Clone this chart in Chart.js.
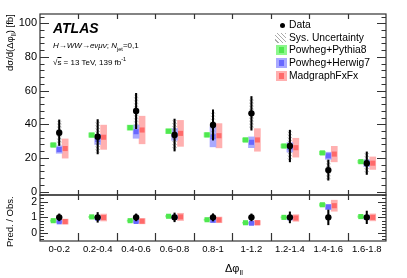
<!DOCTYPE html>
<html>
<head>
<meta charset="utf-8">
<script src="https://cdn.jsdelivr.net/npm/chart.js@4"></script>
<style>
  body { margin: 0; background: #fff; }
  #wrap { position: relative; width: 407px; height: 278px; font-family: 'Liberation Sans', Arial, sans-serif; color: #000; }
  canvas { position: absolute; left: 0; top: 0; }
  .txt { position: absolute; white-space: nowrap; line-height: 1; }
  .rot { transform-origin: 0 0; transform: rotate(-90deg); }
  .leg { position: absolute; left: 289px; font-size: 10.3px; line-height: 1; white-space: nowrap; }
  .sym { position: absolute; }
  sub { font-size: 0.7em; }
  sup { font-size: 0.7em; }
</style>
</head>
<body>
<div id="wrap">
  <canvas id="ratioChart" width="407" height="278"></canvas>
  <canvas id="mainChart" width="407" height="278"></canvas>

  <div class="txt" style="left:53px; top:21px; font-size:14px; font-weight:bold; font-style:italic;">ATLAS</div>
  <div class="txt" style="left:53px; top:42px; font-size:8px;"><i>H</i>→<i>WW</i>→<i>eνμν</i>; <i>N</i><sub>jet</sub>=0,1</div>
  <div class="txt" style="left:53px; top:57px; font-size:8px;">√<span style="text-decoration:overline">s</span> = 13 TeV, 139 fb<sup>-1</sup></div>

  <div class="sym" style="left:280px; top:23px; width:5px; height:5px; border-radius:50%; background:#000;"></div>
  <div class="leg" style="top:20px;">Data</div>
  <div class="sym" style="left:275px; top:33px; width:11px; height:10px; background:repeating-linear-gradient(45deg, #fff 0 2px, #aaa 2px 3px);"></div>
  <div class="leg" style="top:33px;">Sys. Uncertainty</div>
  <div class="sym" style="left:276px; top:45px; width:11px; height:10px; background:#8cf78c;"><div style="margin:2px 3px; width:5px; height:6px; background:#4fe84f;"></div></div>
  <div class="leg" style="top:45px;">Powheg+Pythia8</div>
  <div class="sym" style="left:276px; top:58px; width:11px; height:10px; background:#a9a9ff;"><div style="margin:2px 3px; width:5px; height:6px; background:#6868ff;"></div></div>
  <div class="leg" style="top:58px;">Powheg+Herwig7</div>
  <div class="sym" style="left:276px; top:71px; width:11px; height:10px; background:#ffb0b0;"><div style="margin:2px 3px; width:5px; height:6px; background:#ff6a6a;"></div></div>
  <div class="leg" style="top:71px;">MadgraphFxFx</div>

  <div class="txt rot" style="left:5px; top:71px; font-size:9.5px;">dσ/d(Δφ<sub>ll</sub>) [fb]</div>
  <div class="txt rot" style="left:5px; top:247px; font-size:9.5px;">Pred. / Obs.</div>
  <div class="txt" style="left:225px; top:263px; font-size:11px;">Δφ<sub>ll</sub></div>
</div>

<script>
// Binning in Delta phi_ll
const binEdges = [0, 0.2, 0.4, 0.6, 0.8, 1.0, 1.2, 1.4, 1.6, 1.8];
const binLabels = ['0-0.2', '0.2-0.4', '0.4-0.6', '0.6-0.8', '0.8-1', '1-1.2', '1.2-1.4', '1.4-1.6', '1.6-1.8'];

// Measured cross section [fb]
const dataVal = [35.0, 32.6, 47.9, 33.6, 39.6, 46.5, 27.1, 12.8, 16.9];
const dataErr = [7.6, 10.2, 10.5, 9.5, 9.0, 10.0, 9.4, 6.0, 6.7];
const dataSys = [6.8, 9.2, 9.5, 8.6, 8.0, 9.0, 8.5, 5.5, 6.0];

// Predictions
const pythiaVal = [27.7, 33.6, 38.0, 35.9, 33.7, 30.7, 27.1, 23.0, 17.8];
const pythiaErr = [1.2, 1.3, 1.5, 1.4, 1.3, 1.2, 1.1, 1.0, 0.8];
const herwigVal = [25.0, 31.0, 35.6, 34.0, 32.6, 29.3, 26.3, 21.3, 16.9];
const herwigErr = [2.2, 3.0, 3.9, 3.5, 6.0, 3.2, 2.8, 2.1, 2.0];
const madgraphVal = [25.6, 32.3, 36.6, 34.6, 33.2, 30.7, 26.1, 22.3, 16.9];
const madgraphErr = [5.7, 7.2, 8.2, 7.7, 7.2, 6.7, 5.6, 4.6, 3.7];

// Ratio panel (Pred. / Obs.)
const ratioDataErr = [0.22, 0.31, 0.22, 0.28, 0.23, 0.22, 0.35, 0.47, 0.40];
const ratioPythia = [0.79, 1.03, 0.79, 1.07, 0.85, 0.66, 1.00, 1.80, 1.05];
const ratioPythiaErr = [0.04, 0.04, 0.04, 0.05, 0.04, 0.03, 0.04, 0.08, 0.05];
const ratioHerwig = [0.72, 0.95, 0.74, 1.01, 0.82, 0.63, 0.97, 1.66, 1.00];
const ratioHerwigErr = [0.06, 0.09, 0.08, 0.10, 0.15, 0.07, 0.10, 0.16, 0.12];
const ratioMadgraph = [0.73, 0.99, 0.76, 1.03, 0.84, 0.66, 0.96, 1.74, 1.00];
const ratioMadgraphErr = [0.16, 0.22, 0.17, 0.23, 0.18, 0.14, 0.21, 0.35, 0.22];

// Axis ticks
const mainTicks = [0, 20, 40, 60, 80, 100];
const ratioTicks = [0, 1, 2];

const FONT = "'Liberation Sans', Arial, sans-serif";
const OFF = 0.031; // side offset of the MC markers (in units of Delta phi)

const centers = binLabels.map((_, i) => (binEdges[i] + binEdges[i + 1]) / 2);

const GREEN_L = '#8cf78c', GREEN_D = '#4fe84f';
const BLUE_L = '#a9a9ff', BLUE_D = '#6868ff';
const RED_L = '#ffb0b0', RED_D = '#ff6a6a';

// hatch pattern for systematic band
function hatchPattern() {
    const c = document.createElement('canvas');
    c.width = 4; c.height = 3;
    const g = c.getContext('2d');
    g.strokeStyle = '#999';
    g.lineWidth = 0.7;
    g.beginPath();
    g.moveTo(0, 0); g.lineTo(4, 3);
    g.stroke();
    return g.createPattern(c, 'repeat');
}

function band(vals, errs, dx) {
    return vals.map((v, i) => ({ x: centers[i] + dx, y: [v - errs[i], v + errs[i]] }));
}
function pts(vals, dx) {
    return vals.map((v, i) => ({ x: centers[i] + dx, y: v }));
}

// frame and inward ticks, ROOT style
const framePlugin = {
    id: 'frame',
    afterDatasetsDraw(chart, args, o) {
        const { ctx, chartArea: a, scales } = chart;
        ctx.save();
        ctx.strokeStyle = '#333';
        ctx.lineWidth = 1.2;
        ctx.strokeRect(a.left, a.top, a.right - a.left, a.bottom - a.top);
        ctx.beginPath();
        binEdges.slice(1, -1).forEach(e => {
            const x = Math.round(scales.x.getPixelForValue(e)) + 0.5;
            ctx.moveTo(x, a.top); ctx.lineTo(x, a.top + o.xTop);
            ctx.moveTo(x, a.bottom); ctx.lineTo(x, a.bottom - o.xBottom);
        });
        const y = scales.y;
        for (let v = o.minorStart; v <= y.max; v += o.minorStep) {
            const isMajor = o.major.some(m => Math.abs(m - v) < 1e-6);
            const len = isMajor ? o.majorLen : o.minorLen;
            const py = Math.round(y.getPixelForValue(v)) + 0.5;
            ctx.moveTo(a.left, py); ctx.lineTo(a.left + len, py);
            ctx.moveTo(a.right, py); ctx.lineTo(a.right - len, py);
        }
        ctx.stroke();
        ctx.restore();
    }
};

function buildDatasets(vals, errs, sys, py, pyE, hw, hwE, mg, mgE, markerSize) {
    const ds = [
        { type: 'scatter', data: pts(vals, 0), pointStyle: 'circle', pointRadius: 3.2, backgroundColor: '#000', borderWidth: 0 },
        { type: 'bar', data: band(vals, errs, 0), backgroundColor: '#000', barThickness: 1.4, grouped: false },
    ];
    if (sys) {
        ds.push({ type: 'bar', data: band(vals, sys, 0), backgroundColor: hatchPattern(), barThickness: 4, grouped: false });
    }
    ds.push(
        { type: 'scatter', data: pts(py, -OFF), pointStyle: 'rect', pointRadius: markerSize, backgroundColor: GREEN_D, borderWidth: 0 },
        { type: 'scatter', data: pts(hw, 0), pointStyle: 'rect', pointRadius: markerSize, backgroundColor: BLUE_D, borderWidth: 0 },
        { type: 'scatter', data: pts(mg, OFF), pointStyle: 'rect', pointRadius: markerSize, backgroundColor: RED_D, borderWidth: 0 },
        { type: 'bar', data: band(py, pyE, -OFF), backgroundColor: GREEN_L, barThickness: 6, grouped: false },
        { type: 'bar', data: band(hw, hwE, 0), backgroundColor: BLUE_L, barThickness: 6, grouped: false },
        { type: 'bar', data: band(mg, mgE, OFF), backgroundColor: RED_L, barThickness: 6, grouped: false }
    );
    return ds;
}

function yAxis(min, max, ticks, size) {
    return {
        min: min, max: max,
        afterBuildTicks: s => { s.ticks = ticks.map(v => ({ value: v })); },
        afterFit: s => { s.width = 40; },
        grid: { display: false, drawTicks: false },
        border: { display: false },
        ticks: { color: '#000', padding: 3, font: { family: FONT, size: size } }
    };
}

const commonOpts = {
    responsive: false,
    animation: false,
    devicePixelRatio: 1,
    plugins: { legend: { display: false }, tooltip: { enabled: false } }
};

// Main panel
new Chart(document.getElementById('mainChart'), {
    type: 'bar',
    data: {
        datasets: buildDatasets(dataVal, dataErr, dataSys, pythiaVal, pythiaErr,
            herwigVal, herwigErr, madgraphVal, madgraphErr, 3.6)
    },
    options: {
        ...commonOpts,
        layout: { padding: { top: 14, right: 21, bottom: 83, left: 0 } },
        scales: {
            x: { type: 'linear', min: 0, max: 1.8, offset: false, display: false },
            y: yAxis(-2, 105.5, mainTicks, 11)
        },
        plugins: {
            ...commonOpts.plugins,
            frame: { xTop: 5, xBottom: 5, major: mainTicks, minorStart: 0, minorStep: 4, majorLen: 9, minorLen: 4.5 }
        }
    },
    plugins: [framePlugin]
});

// Ratio panel
new Chart(document.getElementById('ratioChart'), {
    type: 'bar',
    data: {
        datasets: buildDatasets(dataVal.map(() => 1), ratioDataErr, null, ratioPythia, ratioPythiaErr,
            ratioHerwig, ratioHerwigErr, ratioMadgraph, ratioMadgraphErr, 3.6)
    },
    options: {
        ...commonOpts,
        layout: { padding: { top: 195, right: 21, bottom: 0, left: 0 } },
        scales: {
            x: {
                type: 'linear', min: 0, max: 1.8, offset: false,
                afterBuildTicks: s => { s.ticks = centers.map(v => ({ value: v })); },
                afterFit: s => { s.height = 37; },
                grid: { display: false, drawTicks: false },
                border: { display: false },
                ticks: {
                    color: '#000', padding: 3, maxRotation: 0, autoSkip: false,
                    font: { family: FONT, size: 9.5 },
                    callback: (v, i) => binLabels[i]
                }
            },
            y: yAxis(-0.5, 2.42, ratioTicks, 10.5)
        },
        plugins: {
            ...commonOpts.plugins,
            frame: { xTop: 5, xBottom: 8, major: ratioTicks, minorStart: -0.4, minorStep: 0.2, majorLen: 8, minorLen: 4 }
        }
    },
    plugins: [framePlugin]
});
</script>
</body>
</html>
